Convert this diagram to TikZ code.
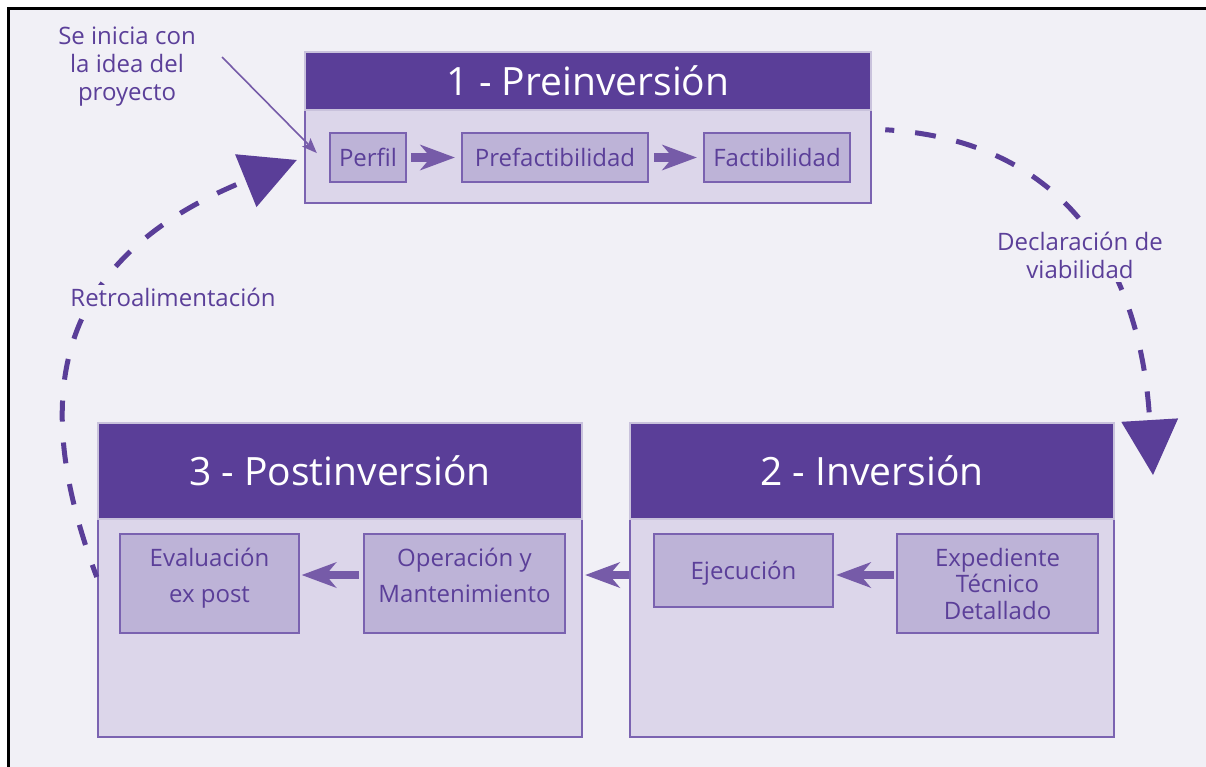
\documentclass[tikz,border=0pt]{standalone}
\usepackage{fontspec}
\setmainfont{Open Sans}
\usetikzlibrary{arrows.meta}

\definecolor{bg}{HTML}{F1F0F6}
\definecolor{hdr}{HTML}{5A3E98}
\definecolor{hdrline}{HTML}{C9C2DC}
\definecolor{bodyc}{HTML}{DCD6EA}
\definecolor{bodyline}{HTML}{7B63B1}
\definecolor{innerc}{HTML}{BDB3D7}
\definecolor{innerline}{HTML}{7A62B0}
\definecolor{txt}{HTML}{5B3F99}
\definecolor{arrowc}{HTML}{765BA8}
\definecolor{dashc}{HTML}{5A3E98}

\tikzset{
  bodybox/.style={fill=bodyc, draw=bodyline, line width=2.5pt, inner sep=0pt},
  headbox/.style={fill=hdr, draw=hdrline, line width=2pt, text=white, inner sep=0pt,
                  font=\fontsize{39}{44}\selectfont},
  stepbox/.style={fill=innerc, draw=innerline, line width=2.5pt, text=txt, inner sep=0pt,
                  align=center, font=\fontsize{24}{28}\selectfont},
  flowarrow/.style={draw=arrowc, line width=8.5pt,
                    -{Stealth[length=35pt,width=26pt,inset=11pt,line width=0pt]}},
  cyclearrow/.style={draw=dashc, line width=5pt, dash pattern=on 21pt off 21pt,
                     -{Triangle[length=55pt,width=57pt,line width=0pt]}},
  pointer/.style={draw=arrowc, line width=1.6pt,
                  -{Stealth[length=15pt,width=12pt,inset=3pt,line width=0pt]}},
  note/.style={text=txt, align=center, font=\fontsize{24}{28}\selectfont, fill=bg, inner sep=3pt},
}

\begin{document}
\begin{tikzpicture}[x=1pt,y=-1pt]
\useasboundingbox (0,0) rectangle (1206,766);

% page background and frame
\begin{scope}
  \clip (0,0) rectangle (1206,766);
  \fill[white] (0,0) rectangle (1206,766);
  \filldraw[fill=bg, draw=black, line width=3.5pt] (8.5,8.5) rectangle (1240,800);
\end{scope}

% phase 1
\node[bodybox, minimum width=566pt, minimum height=93pt] (b1) at (588,156.5) {};
\node[headbox, minimum width=566pt, minimum height=58pt] (h1) at (588,81) {1 - Preinversión};
\node[stepbox, minimum width=76pt, minimum height=49pt] (perfil) at (368,157.5) {Perfil};
\node[stepbox, minimum width=186pt, minimum height=49pt] (prefact) at (555,157.5) {Prefactibilidad};
\node[stepbox, minimum width=146pt, minimum height=49pt] (fact) at (777,157.5) {Factibilidad};

% phase 2
\node[bodybox, minimum width=484pt, minimum height=218pt] (b2) at (872,628) {};
\node[headbox, minimum width=484pt, minimum height=96pt] (h2) at (872,471) {2 - Inversión};
\node[stepbox, minimum width=179pt, minimum height=73pt, text depth=0pt] (ejec) at (743.5,570.5) {Ejecución};
\node[stepbox, minimum width=201pt, minimum height=99pt,
      font=\fontsize{24}{26.5}\selectfont] (exped) at (997.5,583.5) {Expediente\\Técnico\\Detallado};

% phase 3
\node[bodybox, minimum width=484pt, minimum height=218pt] (b3) at (340,628) {};
\node[headbox, minimum width=484pt, minimum height=96pt] (h3) at (340,471) {3 - Postinversión};
\node[stepbox, minimum width=179pt, minimum height=99pt, text depth=15.5pt,
      font=\fontsize{24}{36}\selectfont] (eval) at (209.5,583.5) {Evaluación\\ex post};
\node[stepbox, minimum width=201pt, minimum height=99pt, text depth=15.5pt,
      font=\fontsize{24}{36}\selectfont] (oper) at (464.5,583.5) {Operación y\\Mantenimiento};

% flow inside the phases
\draw[flowarrow, shorten <=4pt, shorten >=6pt] (perfil.east) -- (prefact.west);
\draw[flowarrow, shorten <=5pt, shorten >=6pt] (prefact.east) -- (fact.west);
\draw[flowarrow, shorten <=2pt, shorten >=2pt]
  ([yshift=8.5pt]exped.west) -- ([yshift=8.5pt]exped.west -| ejec.east);
\draw[flowarrow, shorten >=2pt]
  ([yshift=53pt]b2.west) -- ([yshift=53pt]b2.west -| b3.east);
\draw[flowarrow, shorten <=4pt, shorten >=1.5pt]
  ([yshift=8.5pt]oper.west) -- ([yshift=8.5pt]oper.west -| eval.east);

% cycle between phases
\coordinate (vtip) at (1153,475);
\draw[cyclearrow, dash phase=12pt]
  ([xshift=13pt,yshift=-21pt]b1.north east) .. controls (1060,140) and (1140,260) .. (vtip);
\draw[cyclearrow, dash phase=8pt]
  ([yshift=51pt]b3.west) .. controls (30,400) and (50,260) .. ([xshift=-7pt,yshift=-3.5pt]b1.west);

% labels
\node[note] (decl) at (1080,255.5) {Declaración de\\viabilidad};
\node[note] (retro) at (173,297) {Retroalimentación};
\node[note, fill=none] (idea) at (127,67) {Se inicia con\\la idea del\\proyecto};
\draw[pointer] ([xshift=95pt,yshift=10pt]idea.center) -- ([xshift=-12pt,yshift=4.5pt]perfil.west);
\end{tikzpicture}
\end{document}
